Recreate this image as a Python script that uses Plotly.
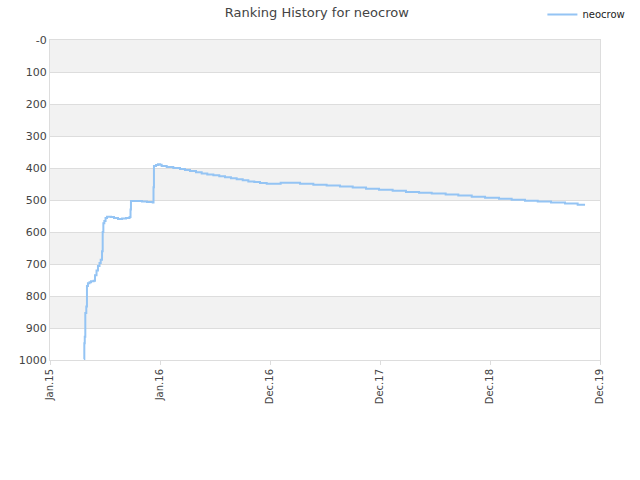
import plotly.graph_objects as go

# x positions in axis units (0 = Jan.15, 1 = Jan.16, 2 = Dec.16, ...)
x_pos = [0.309, 0.312, 0.316, 0.321, 0.330, 0.336, 0.345, 0.359, 0.373, 0.397,
         0.409, 0.423, 0.436, 0.450, 0.461, 0.473, 0.479, 0.485, 0.494, 0.505,
         0.518, 0.555, 0.582, 0.618, 0.655, 0.691, 0.723, 0.732, 0.736, 0.782,
         0.836, 0.882, 0.934, 0.941, 0.945, 0.964, 0.982, 1.000, 1.015, 1.061,
         1.121, 1.182, 1.227, 1.273, 1.327, 1.379, 1.430, 1.485, 1.539, 1.591,
         1.645, 1.697, 1.752, 1.803, 1.857, 1.909, 1.970, 2.097, 2.273, 2.394,
         2.515, 2.636, 2.752, 2.873, 2.991, 3.115, 3.236, 3.355, 3.470, 3.597,
         3.712, 3.834, 3.955, 4.082, 4.197, 4.318, 4.434, 4.555, 4.682, 4.797,
         4.864]
ranks = [998, 948, 927, 853, 833, 769, 760, 757, 754, 752,
         735, 720, 706, 697, 687, 660, 600, 573, 566, 556,
         552, 553, 556, 559, 558, 556, 553, 530, 503, 503,
         505, 506, 508, 460, 394, 391, 388, 390, 394, 397,
         400, 403, 406, 409, 413, 417, 420, 423, 426, 429,
         432, 435, 438, 442, 444, 447, 449, 446, 449, 452,
         455, 458, 461, 465, 468, 471, 475, 477, 480, 483,
         486, 490, 493, 496, 499, 502, 505, 508, 511, 515,
         515]

x_tick_vals = [0, 1, 2, 3, 4, 5]
x_tick_text = ["Jan.15", "Jan.16", "Dec.16", "Dec.17", "Dec.18", "Dec.19"]
y_tick_vals = [0, 100, 200, 300, 400, 500, 600, 700, 800, 900, 1000]
y_tick_text = ["-0", "100", "200", "300", "400", "500", "600", "700", "800", "900", "1000"]

fig = go.Figure()
fig.add_trace(go.Scatter(
    x=x_pos, y=ranks, mode="lines", name="neocrow",
    line=dict(color="#94c4f4", width=2, shape="hv"),
))

shapes = []
for i in range(0, len(y_tick_vals) - 1, 2):
    shapes.append(dict(type="rect", xref="paper", yref="y", x0=0, x1=1,
                       y0=y_tick_vals[i], y1=y_tick_vals[i + 1],
                       fillcolor="#f2f2f2", line=dict(width=0), layer="below"))

fig.update_layout(
    width=640, height=480,
    margin=dict(l=50, r=40, t=40, b=120, autoexpand=False),
    paper_bgcolor="white", plot_bgcolor="white",
    font=dict(family="DejaVu Sans", color="#444", size=11),
    title=dict(text="Ranking History for neocrow", x=0.495, xanchor="center",
               y=0.975, yanchor="middle", font=dict(size=13, color="#444")),
    showlegend=True,
    legend=dict(x=0.985, xanchor="right", y=1.0, yanchor="top",
                xref="container", yref="container",
                font=dict(size=10, color="#222"), bgcolor="rgba(0,0,0,0)",
                itemwidth=30),
    shapes=shapes,
    xaxis=dict(range=[0, 5], tickmode="array", tickvals=x_tick_vals,
               ticktext=x_tick_text, tickangle=-90, showgrid=False,
               zeroline=False, showline=True, linecolor="#ddd", mirror=True,
               ticks="outside", ticklen=4, tickcolor="#ddd",
               tickfont=dict(size=10, color="#444")),
    yaxis=dict(range=[1000, 0], tickmode="array", tickvals=y_tick_vals,
               ticktext=y_tick_text, showgrid=True, gridcolor="#dddddd",
               zeroline=False, showline=True, linecolor="#ddd", mirror=True,
               ticks="", tickfont=dict(size=11, color="#444")),
)

fig.write_html("out.html", config={"displayModeBar": False},
               post_script="document.body.style.margin='0';")
